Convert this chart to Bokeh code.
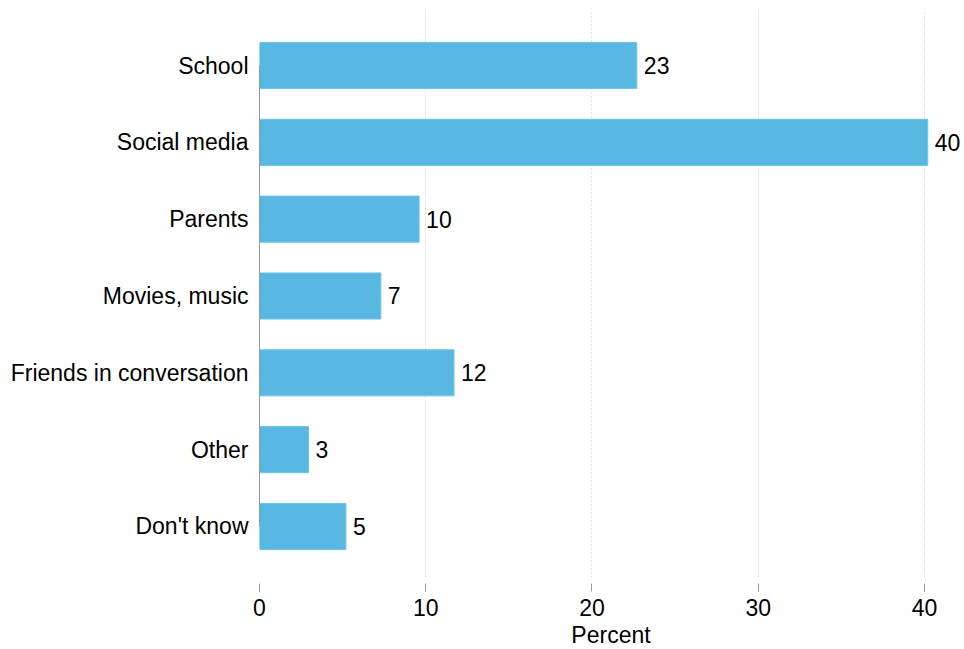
from bokeh.plotting import figure
from bokeh.models import ColumnDataSource, FixedTicker, Range1d
from bokeh.core.properties import value
from bokeh.embed import file_html
from bokeh.resources import INLINE

categories = ["School", "Social media", "Parents", "Movies, music",
              "Friends in conversation", "Other", "Don't know"]
percents = [22.7, 40.2, 9.6, 7.3, 11.7, 2.95, 5.2]
x_ticks = [0, 10, 20, 30, 40]

n = len(categories)
ypos = [n - i for i in range(n)]
labels = [str(int(round(v))) for v in percents]

src = ColumnDataSource(dict(y=ypos, v=percents, lab=labels, cat=categories))

FONT = "Liberation Sans"
FS = "23px"
p = figure(frame_width=703, frame_height=569,
           output_backend="svg", toolbar_location=None,
           x_range=Range1d(0, 42.29), y_range=Range1d(0.336, 7.742),
           min_border_left=259, min_border_right=0, min_border_top=8,
           min_border_bottom=0)
p.outline_line_color = None
p.background_fill_color = "white"

p.hbar(y="y", left=0, right="v", height=0.6, source=src,
       fill_color="#58b8e2", line_color="#6ec4ea", line_width=1)

p.text(x="v", y="y", text="lab", source=src, x_offset=7,
       text_font=value(FONT), text_font_size=FS, text_color="#000000",
       text_baseline="middle", text_align="left")

# x axis
p.xaxis.ticker = FixedTicker(ticks=x_ticks)
p.xaxis.axis_line_color = None
p.xaxis.major_tick_in = -6
p.xaxis.major_tick_out = 14
p.xaxis.major_tick_line_color = "#999999"
p.xaxis.minor_tick_line_color = None
p.xaxis.major_label_standoff = 7
p.xaxis.major_label_text_font = FONT
p.xaxis.major_label_text_font_size = FS
p.xaxis.major_label_text_color = "#000000"
p.xaxis.axis_label = "Percent"
p.xaxis.axis_label_text_font = FONT
p.xaxis.axis_label_text_font_size = FS
p.xaxis.axis_label_text_font_style = "normal"
p.xaxis.axis_label_text_color = "#000000"
p.xaxis.axis_label_standoff = 3

# y axis
p.yaxis.ticker = FixedTicker(ticks=ypos)
p.yaxis.major_label_overrides = {y: c for y, c in zip(ypos, categories)}
p.yaxis.bounds = (1, n)
p.yaxis.axis_line_color = "#999999"
p.yaxis.major_tick_line_color = None
p.yaxis.minor_tick_line_color = None
p.yaxis.major_tick_in = 0
p.yaxis.major_tick_out = 0
p.yaxis.major_label_standoff = 11
p.yaxis.major_label_text_font = FONT
p.yaxis.major_label_text_font_size = FS
p.yaxis.major_label_text_color = "#000000"

p.xgrid.ticker = FixedTicker(ticks=x_ticks)
p.xgrid.grid_line_color = "#c8c8c8"
p.xgrid.grid_line_dash = "1 3"
p.ygrid.grid_line_color = None

open("out.html", "w").write(file_html(p, INLINE))
